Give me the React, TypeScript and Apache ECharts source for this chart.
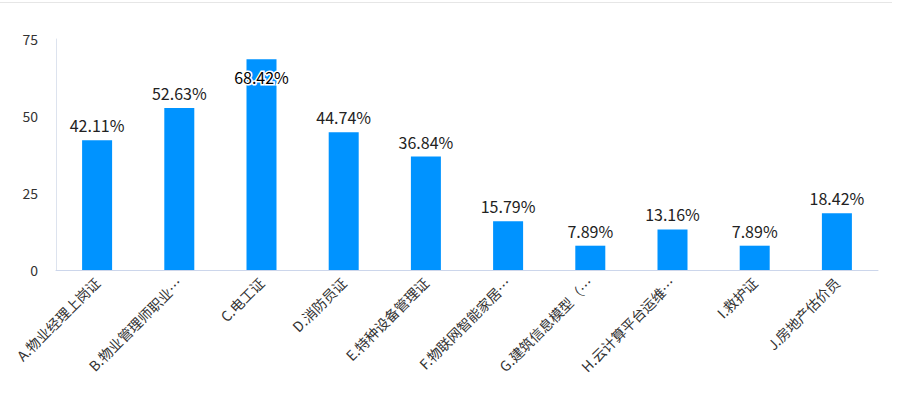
import React, { useEffect, useRef } from "react";
import * as echarts from "echarts";

const categories = [
  "A.物业经理上岗证",
  "B.物业管理师职业资格证",
  "C.电工证",
  "D.消防员证",
  "E.特种设备管理证",
  "F.物联网智能家居系统集成",
  "G.建筑信息模型（BIM）",
  "H.云计算平台运维与开发",
  "I.救护证",
  "J.房地产估价员",
];
const values = [42.11, 52.63, 68.42, 44.74, 36.84, 15.79, 7.89, 13.16, 7.89, 18.42];
const yTicks = [0, 25, 50, 75];

export default function App() {
  const ref = useRef<HTMLDivElement>(null);
  useEffect(() => {
    if (!ref.current) return;
    const chart = echarts.init(ref.current, undefined, { renderer: "svg" });
    const font = '"Noto Sans CJK SC", "Noto Sans", sans-serif';
    chart.setOption({
      animation: false,
      graphic: [
        {
          type: "line",
          shape: { x1: 0, y1: 2.5, x2: 892, y2: 2.5 },
          style: { stroke: "#e6e6e6", lineWidth: 1 },
        },
      ],
      grid: { left: 56, right: 22, top: 39, bottom: 128, containLabel: false },
      xAxis: {
        type: "category",
        data: categories,
        axisLine: { lineStyle: { color: "#ccd6eb", width: 1 } },
        axisTick: { show: false },
        axisLabel: {
          rotate: 45,
          interval: 0,
          fontSize: 14,
          color: "#333",
          fontFamily: font,
          width: 134,
          overflow: "truncate",
          ellipsis: "…",
          margin: 10,
        },
      },
      yAxis: {
        type: "value",
        min: 0,
        max: yTicks[yTicks.length - 1],
        interval: 25,
        axisLine: { show: true, lineStyle: { color: "#dde3ee", width: 1 } },
        axisTick: { show: false },
        splitLine: { show: false },
        axisLabel: { fontSize: 14, color: "#333", fontFamily: font, margin: 18 },
      },
      series: [
        {
          type: "bar",
          barWidth: 30,
          itemStyle: { color: "#0093ff" },
          data: values.map((v, i) =>
            i === 2
              ? {
                  value: v,
                  label: {
                    position: "insideTop",
                    distance: 10,
                    color: "#000",
                    textBorderColor: "#fff",
                    textBorderWidth: 3,
                  },
                }
              : v
          ),
          label: {
            show: true,
            position: "top",
            distance: 7,
            fontSize: 16,
            color: "#222",
            fontFamily: font,
            formatter: (p: any) => p.value.toFixed(2) + "%",
          },
        },
      ],
    });
    return () => chart.dispose();
  }, []);
  return <div ref={ref} style={{ width: 900, height: 398, position: "absolute", left: 0, top: 0 }} />;
}
